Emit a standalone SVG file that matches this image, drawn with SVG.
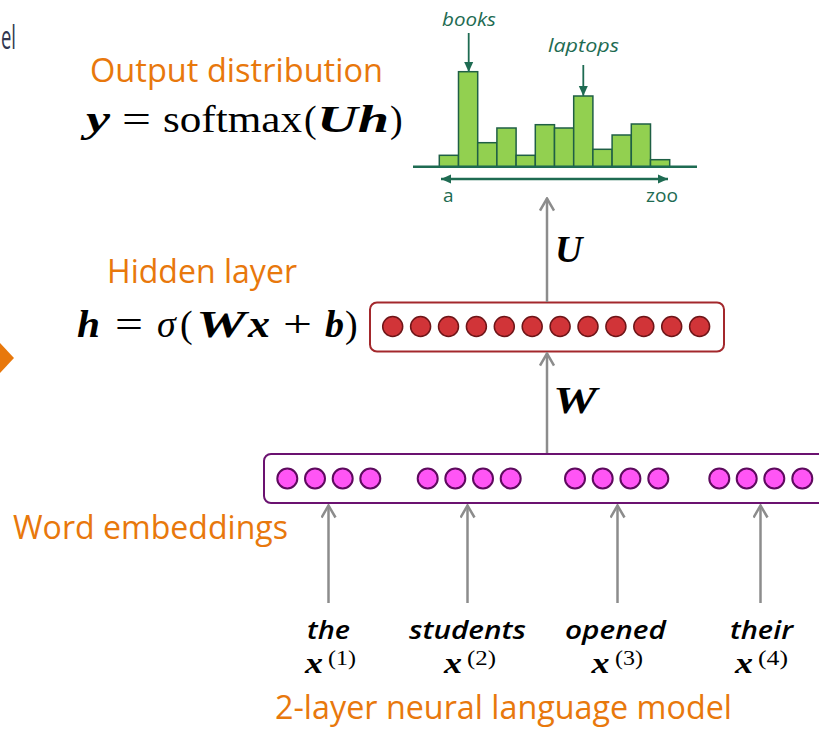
<svg xmlns="http://www.w3.org/2000/svg" width="819" height="729" viewBox="0 0 819 729">
<defs>
<style>
.lbl{font-family:"Open Sans","Liberation Sans",sans-serif;fill:#E8780C;font-size:32px}
.math{font-family:"Liberation Serif","DejaVu Serif",serif;fill:#000;font-size:38px}
.bi{font-weight:bold;font-style:italic}
.word{font-family:"Open Sans","Liberation Sans",sans-serif;font-style:italic;font-weight:600;font-size:25px;fill:#000}
.xm{font-family:"Liberation Serif","DejaVu Serif",serif;font-weight:bold;font-style:italic;font-size:30px;fill:#000}
.sup{font-family:"Liberation Serif","DejaVu Serif",serif;font-size:20px;fill:#000}
.grn{font-family:"Open Sans","Liberation Sans",sans-serif;font-size:19px;fill:#1E6B52}
.bar{fill:#92D050;stroke:#1F5F45;stroke-width:1.5}
.hc{fill:#D13438;stroke:#6E1518;stroke-width:1.5}
.ec{fill:#FF55F5;stroke:#5E0A5E;stroke-width:2}
.conn{stroke:#8C8C8C;stroke-width:2.5;fill:none}
</style>
<marker id="chev" viewBox="0 0 16 16" refX="14" refY="8" markerWidth="16" markerHeight="16" markerUnits="userSpaceOnUse" orient="auto">
<path d="M2,1 L14,8 L2,15" fill="none" stroke="#8C8C8C" stroke-width="2.5"/>
</marker>
<marker id="gtri" viewBox="0 0 10 10" refX="10" refY="5" markerWidth="10" markerHeight="10" markerUnits="userSpaceOnUse" orient="auto-start-reverse">
<path d="M0,0.5 L10,5 L0,9.5 Z" fill="#1E6B52"/>
</marker>
</defs>

<rect width="819" height="729" fill="#FFFFFF"/>

<!-- clipped title fragment and left marker -->
<text x="1" y="49" font-family="Open Sans, Liberation Sans, sans-serif" font-size="32" fill="#2F3650" textLength="15" lengthAdjust="spacingAndGlyphs">el</text>
<polygon points="0,343 14,358 0,373" fill="#E8780C"/>

<!-- output distribution -->
<g id="output">
<text class="lbl" x="90" y="82" textLength="293" lengthAdjust="spacingAndGlyphs">Output distribution</text>
<text class="math bi" x="86" y="132" textLength="24" lengthAdjust="spacingAndGlyphs">y</text>
<text class="math" x="122" y="132" textLength="29" lengthAdjust="spacingAndGlyphs">=</text>
<text class="math" x="163" y="132" textLength="139" lengthAdjust="spacingAndGlyphs">softmax</text>
<text class="math" x="304" y="132" font-size="40">(</text>
<text class="math bi" x="317" y="132" textLength="72" lengthAdjust="spacingAndGlyphs">Uh</text>
<text class="math" x="390" y="132" font-size="40">)</text>
</g>

<!-- histogram -->
<g id="histogram">
<rect class="bar" x="439.3" y="155.3" width="19.2" height="11.4"/>
<rect class="bar" x="458.5" y="71.7" width="19.2" height="95"/>
<rect class="bar" x="477.7" y="142.7" width="19.2" height="24"/>
<rect class="bar" x="496.9" y="128" width="19.2" height="38.7"/>
<rect class="bar" x="516.1" y="155.3" width="19.2" height="11.4"/>
<rect class="bar" x="535.3" y="124.7" width="19.2" height="42"/>
<rect class="bar" x="554.5" y="128" width="19.2" height="38.7"/>
<rect class="bar" x="573.7" y="96" width="19.2" height="70.7"/>
<rect class="bar" x="592.9" y="149.3" width="19.2" height="17.4"/>
<rect class="bar" x="612.1" y="135" width="19.2" height="31.7"/>
<rect class="bar" x="631.3" y="124" width="19.2" height="42.7"/>
<rect class="bar" x="650.5" y="159.7" width="19.2" height="7"/>
<line x1="413" y1="166.7" x2="697" y2="166.7" stroke="#1E6B52" stroke-width="2.5"/>
<line x1="441" y1="179" x2="668" y2="179" stroke="#1E6B52" stroke-width="2.5" marker-start="url(#gtri)" marker-end="url(#gtri)"/>
<text class="grn" x="443" y="202">a</text>
<text class="grn" x="646" y="202" textLength="32" lengthAdjust="spacingAndGlyphs">zoo</text>
<text class="grn" x="442" y="26" font-style="italic" textLength="54" lengthAdjust="spacingAndGlyphs">books</text>
<line x1="468.7" y1="33" x2="468.7" y2="72" stroke="#1E6B52" stroke-width="1.8" marker-end="url(#gtri)"/>
<text class="grn" x="548" y="52" font-style="italic" textLength="71" lengthAdjust="spacingAndGlyphs">laptops</text>
<line x1="583.3" y1="65" x2="583.3" y2="96" stroke="#1E6B52" stroke-width="1.8" marker-end="url(#gtri)"/>
</g>

<!-- hidden layer -->
<g id="hidden">
<text class="lbl" x="107" y="283" textLength="190" lengthAdjust="spacingAndGlyphs">Hidden layer</text>
<text class="math bi" x="77" y="337" textLength="23" lengthAdjust="spacingAndGlyphs">h</text>
<text class="math" x="115" y="337" textLength="28" lengthAdjust="spacingAndGlyphs">=</text>
<text class="math" x="157" y="337" font-style="italic">σ</text>
<text class="math" x="180" y="337" font-size="40">(</text>
<text class="math bi" x="196" y="337" textLength="50" lengthAdjust="spacingAndGlyphs">W</text>
<text class="math bi" x="248" y="337" textLength="22" lengthAdjust="spacingAndGlyphs">x</text>
<text class="math" x="283" y="337" textLength="29" lengthAdjust="spacingAndGlyphs">+</text>
<text class="math bi" x="325" y="337">b</text>
<text class="math" x="345" y="337" font-size="40">)</text>
<rect x="370" y="302.5" width="354" height="49" rx="7" fill="#FFFFFF" stroke="#A3282C" stroke-width="2"/>
<circle class="hc" cx="392.7" cy="326.5" r="10"/>
<circle class="hc" cx="420.6" cy="326.5" r="10"/>
<circle class="hc" cx="448.5" cy="326.5" r="10"/>
<circle class="hc" cx="476.4" cy="326.5" r="10"/>
<circle class="hc" cx="504.3" cy="326.5" r="10"/>
<circle class="hc" cx="532.2" cy="326.5" r="10"/>
<circle class="hc" cx="560.1" cy="326.5" r="10"/>
<circle class="hc" cx="588" cy="326.5" r="10"/>
<circle class="hc" cx="615.9" cy="326.5" r="10"/>
<circle class="hc" cx="643.8" cy="326.5" r="10"/>
<circle class="hc" cx="671.7" cy="326.5" r="10"/>
<circle class="hc" cx="699.6" cy="326.5" r="10"/>
</g>

<!-- word embeddings -->
<g id="embeddings">
<text class="lbl" x="13" y="539" textLength="275" lengthAdjust="spacingAndGlyphs">Word embeddings</text>
<rect x="264" y="454" width="600" height="49" rx="7" fill="#FFFFFF" stroke="#6B1270" stroke-width="2"/>
<circle class="ec" cx="287.3" cy="478.5" r="10"/>
<circle class="ec" cx="315" cy="478.5" r="10"/>
<circle class="ec" cx="342.7" cy="478.5" r="10"/>
<circle class="ec" cx="370.3" cy="478.5" r="10"/>
<circle class="ec" cx="427.7" cy="478.5" r="10"/>
<circle class="ec" cx="455.3" cy="478.5" r="10"/>
<circle class="ec" cx="483" cy="478.5" r="10"/>
<circle class="ec" cx="510.7" cy="478.5" r="10"/>
<circle class="ec" cx="575" cy="478.5" r="10"/>
<circle class="ec" cx="602.7" cy="478.5" r="10"/>
<circle class="ec" cx="630.4" cy="478.5" r="10"/>
<circle class="ec" cx="658.3" cy="478.5" r="10"/>
<circle class="ec" cx="719.3" cy="478.5" r="10"/>
<circle class="ec" cx="746.7" cy="478.5" r="10"/>
<circle class="ec" cx="774.3" cy="478.5" r="10"/>
<circle class="ec" cx="802.3" cy="478.5" r="10"/>
</g>

<!-- input words -->
<g id="word1">
<text class="word" x="307" y="639" textLength="43" lengthAdjust="spacingAndGlyphs">the</text>
<text class="xm" x="305" y="673" textLength="18" lengthAdjust="spacingAndGlyphs">x</text><text class="sup" x="328" y="665" textLength="28" lengthAdjust="spacingAndGlyphs">(1)</text>
</g>
<g id="word2">
<text class="word" x="409" y="639" textLength="117" lengthAdjust="spacingAndGlyphs">students</text>
<text class="xm" x="444" y="673" textLength="18" lengthAdjust="spacingAndGlyphs">x</text><text class="sup" x="467" y="665" textLength="29" lengthAdjust="spacingAndGlyphs">(2)</text>
</g>
<g id="word3">
<text class="word" x="565" y="639" textLength="101" lengthAdjust="spacingAndGlyphs">opened</text>
<text class="xm" x="591.5" y="673" textLength="18" lengthAdjust="spacingAndGlyphs">x</text><text class="sup" x="615" y="665" textLength="28" lengthAdjust="spacingAndGlyphs">(3)</text>
</g>
<g id="word4">
<text class="word" x="730" y="639" textLength="63" lengthAdjust="spacingAndGlyphs">their</text>
<text class="xm" x="735" y="673" textLength="18" lengthAdjust="spacingAndGlyphs">x</text><text class="sup" x="758" y="665" textLength="30" lengthAdjust="spacingAndGlyphs">(4)</text>
</g>

<text class="lbl" x="275" y="719" font-size="30" textLength="457" lengthAdjust="spacingAndGlyphs">2-layer neural language model</text>

<!-- connectors -->
<g id="connectors">
<line class="conn" x1="547" y1="302" x2="547" y2="198.5" marker-end="url(#chev)"/>
<line class="conn" x1="547" y1="453" x2="547" y2="353.5" marker-end="url(#chev)"/>
<line class="conn" x1="328.5" y1="603" x2="328.5" y2="505.5" marker-end="url(#chev)"/>
<line class="conn" x1="467.5" y1="603" x2="467.5" y2="505.5" marker-end="url(#chev)"/>
<line class="conn" x1="617.5" y1="603" x2="617.5" y2="505.5" marker-end="url(#chev)"/>
<line class="conn" x1="760.5" y1="603" x2="760.5" y2="505.5" marker-end="url(#chev)"/>
<text class="math bi" x="555" y="262" font-size="36">U</text>
<text class="math bi" x="553" y="413" font-size="36" textLength="44" lengthAdjust="spacingAndGlyphs">W</text>
</g>
</svg>
